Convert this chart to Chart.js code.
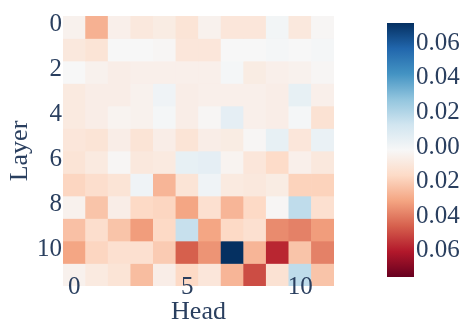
<!DOCTYPE html>
<html>
<head>
<meta charset="utf-8">
<script src="https://cdn.jsdelivr.net/npm/chart.js@4"></script>
<style>
  html, body { margin: 0; padding: 0; background: #fff; }
  #wrap { width: 464px; height: 325px; position: relative; }
</style>
</head>
<body>
<div id="wrap"><canvas id="heat"></canvas></div>
<script>
// Heads on x, layers on y (layer 0 at top)
const heads = ['0', '1', '2', '3', '4', '5', '6', '7', '8', '9', '10', '11'];
const layers = [0, 1, 2, 3, 4, 5, 6, 7, 8, 9, 10, 11];
const headTicks = [0, 5, 10];
const layerTicks = [0, 2, 4, 6, 8, 10];
const colorbarTicks = [0.06, 0.04, 0.02, 0.00, -0.02, -0.04, -0.06];
const zMax = 0.0735;

// cell values, one row per layer
const layer0  = [-0.003, -0.026, -0.004, -0.008, -0.006, -0.010, -0.003, -0.009, -0.009,  0.002, -0.008, -0.001];
const layer1  = [-0.008, -0.010,  0.000,  0.000, -0.001, -0.009, -0.009,  0.000,  0.000,  0.001,  0.000,  0.001];
const layer2  = [ 0.000, -0.003, -0.005, -0.004, -0.004, -0.004, -0.004,  0.001, -0.006, -0.004, -0.003, -0.001];
const layer3  = [-0.007, -0.005, -0.005, -0.003,  0.003, -0.005, -0.004, -0.004, -0.004, -0.005,  0.006, -0.004];
const layer4  = [-0.007, -0.005, -0.002, -0.003,  0.001, -0.005, -0.001,  0.007, -0.004, -0.005,  0.001, -0.011];
const layer5  = [-0.009, -0.010, -0.005, -0.010, -0.005, -0.010, -0.005, -0.006, -0.001,  0.006, -0.009,  0.005];
const layer6  = [-0.010, -0.007, -0.001, -0.008, -0.007,  0.006,  0.007, -0.002, -0.009, -0.014, -0.004, -0.008];
const layer7  = [-0.016, -0.013, -0.010,  0.003, -0.025, -0.010,  0.003, -0.007, -0.008, -0.006, -0.017, -0.017];
const layer8  = [-0.003, -0.021, -0.005, -0.015, -0.016, -0.029, -0.012, -0.025, -0.015, -0.001,  0.019, -0.012];
const layer9  = [-0.022, -0.013, -0.021, -0.031, -0.015,  0.017, -0.029, -0.015, -0.012, -0.035, -0.037, -0.031];
const layer10 = [-0.029, -0.016, -0.012, -0.012, -0.019, -0.044, -0.033,  0.0735, -0.025, -0.056, -0.021, -0.037];
const layer11 = [-0.003, -0.007, -0.010, -0.023, -0.005, -0.015, -0.009, -0.025, -0.048, -0.011,  0.019, -0.021];
const values = [layer0, layer1, layer2, layer3, layer4, layer5, layer6, layer7, layer8, layer9, layer10, layer11];

// RdBu, low (red) -> high (blue)
const rdbu = [
    [103, 0, 31], [178, 24, 43], [214, 96, 77], [244, 165, 130], [253, 219, 199],
    [247, 247, 247], [209, 229, 240], [146, 197, 222], [67, 147, 195], [33, 102, 172], [5, 48, 97]
];

function colorFor(v) {
    let t = (v + zMax) / (2 * zMax);
    t = Math.max(0, Math.min(1, t));
    const pos = t * (rdbu.length - 1);
    const i = Math.min(Math.floor(pos), rdbu.length - 2);
    const f = pos - i;
    const a = rdbu[i], b = rdbu[i + 1];
    const c = a.map((x, k) => Math.round(x + (b[k] - x) * f));
    return `rgb(${c[0]},${c[1]},${c[2]})`;
}

const textColor = '#2a3f5f';
const serif = '"Liberation Serif", "Times New Roman", serif';

// colorbar drawn next to the plot
const colorbarPlugin = {
    id: 'colorbar',
    afterDraw(chart) {
        const ctx = chart.ctx;
        const x0 = 387, x1 = 414, y0 = 23, y1 = 277;
        const grad = ctx.createLinearGradient(0, y1, 0, y0);
        rdbu.forEach((c, i) => grad.addColorStop(i / (rdbu.length - 1), `rgb(${c[0]},${c[1]},${c[2]})`));
        ctx.save();
        ctx.fillStyle = grad;
        ctx.fillRect(x0, y0, x1 - x0, y1 - y0);
        ctx.fillStyle = textColor;
        ctx.font = `25px ${serif}`;
        ctx.textAlign = 'left';
        ctx.textBaseline = 'middle';
        const mid = (y0 + y1) / 2;
        const half = (y1 - y0) / 2;
        colorbarTicks.forEach(v => {
            const y = mid - (v / zMax) * half - 3;
            ctx.fillText(Math.abs(v).toFixed(2), x1 + 2, y);
        });
        ctx.restore();
    }
};

const datasets = layers.map((layer, li) => ({
    label: 'Layer ' + layer,
    data: heads.map(() => [layer - 0.5, layer + 0.5]),
    backgroundColor: values[li].map(colorFor),
    borderWidth: 0,
    barPercentage: 1,
    categoryPercentage: 1,
    grouped: false
}));

new Chart(document.getElementById('heat'), {
    type: 'bar',
    data: { labels: heads, datasets: datasets },
    options: {
        responsive: true,
        maintainAspectRatio: false,
        animation: false,
        layout: { padding: { top: 15, right: 130, left: 0, bottom: 0 } },
        plugins: {
            legend: { display: false },
            tooltip: { enabled: false }
        },
        scales: {
            x: {
                grid: { display: false, drawTicks: false },
                border: { display: false },
                ticks: {
                    z: 1, // tick labels overlap the bottom row, drawn on top
                    mirror: true, // no clipping to the axis box
                    color: textColor,
                    font: { family: serif, size: 25 },
                    padding: -16,
                    maxRotation: 0,
                    autoSkip: false
                },
                afterBuildTicks(scale) {
                    scale.ticks = headTicks.map(v => ({ value: v }));
                },
                afterFit(scale) { scale.height = 39; },
                title: {
                    display: true,
                    text: 'Head',
                    color: textColor,
                    font: { family: serif, size: 26 },
                    padding: { top: 0, bottom: -3 }
                }
            },
            y: {
                min: -0.5,
                max: 11.5,
                reverse: true,
                grid: { display: false, drawTicks: false },
                border: { display: false },
                ticks: {
                    color: textColor,
                    font: { family: serif, size: 25 },
                    padding: 1,
                    labelOffset: -3
                },
                afterBuildTicks(scale) {
                    scale.ticks = layerTicks.map(v => ({ value: v }));
                },
                afterFit(scale) { scale.width = 63; },
                title: {
                    display: true,
                    text: 'Layer',
                    color: textColor,
                    font: { family: serif, size: 26 },
                    padding: { top: 5, bottom: 0 }
                }
            }
        }
    },
    plugins: [colorbarPlugin]
});
</script>
</body>
</html>
